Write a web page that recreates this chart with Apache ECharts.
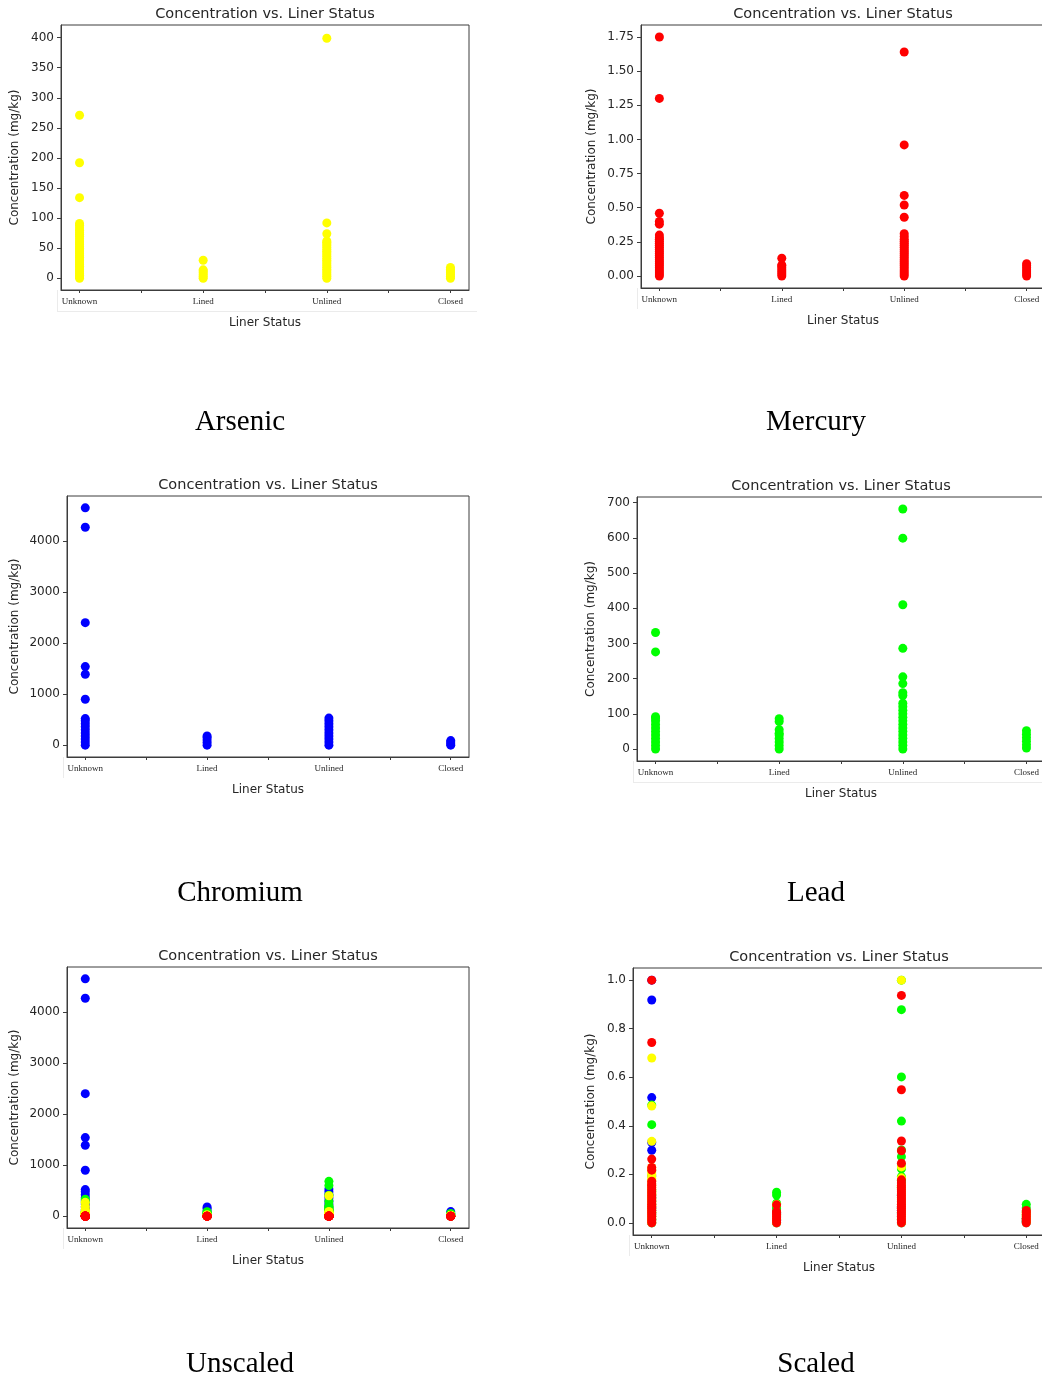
<!DOCTYPE html>
<html>
<head>
<meta charset="utf-8">
<script src="https://cdn.jsdelivr.net/npm/echarts@6/dist/echarts.min.js"></script>
<style>
html,body{margin:0;padding:0;background:#fff;overflow:hidden;}
#c{width:1046px;height:1378px;}
</style>
</head>
<body>
<div id="c"></div>
<script>
// ---- data ----
const categories = ['Unknown', 'Lined', 'Unlined', 'Closed'];

const arsenicUnknown = [0, 2, 5, 8, 11, 14, 17, 20, 23, 26, 29, 32, 35, 38, 41, 44, 47, 50, 53, 56, 59, 62, 66, 70, 73, 76, 80, 84, 88, 91, 134, 192, 271];
const arsenicLined   = [0, 3, 6, 9, 12, 14, 30];
const arsenicUnlined = [0, 3, 6, 9, 12, 15, 18, 21, 24, 27, 30, 33, 36, 39, 42, 45, 48, 51, 54, 57, 60, 62, 74, 92, 399];
const arsenicClosed  = [0, 3, 6, 9, 12, 15, 18];

const mercuryUnknown = [0, 0.015, 0.03, 0.045, 0.06, 0.075, 0.09, 0.105, 0.12, 0.135, 0.15, 0.165, 0.18, 0.195, 0.21, 0.225, 0.24, 0.255, 0.27, 0.28, 0.30, 0.38, 0.40, 0.46, 1.30, 1.75];
const mercuryLined   = [0, 0.015, 0.03, 0.045, 0.06, 0.075, 0.08, 0.13];
const mercuryUnlined = [0, 0.015, 0.03, 0.045, 0.06, 0.075, 0.09, 0.105, 0.12, 0.135, 0.15, 0.165, 0.18, 0.195, 0.21, 0.225, 0.24, 0.255, 0.27, 0.29, 0.31, 0.43, 0.52, 0.59, 0.96, 1.64];
const mercuryClosed  = [0, 0.015, 0.03, 0.045, 0.06, 0.075, 0.09];

const chromiumUnknown = [0, 60, 120, 180, 240, 300, 360, 420, 480, 520, 900, 1390, 1540, 2400, 4270, 4650];
const chromiumLined   = [0, 50, 100, 150, 180];
const chromiumUnlined = [0, 60, 120, 180, 240, 300, 360, 420, 480, 530];
const chromiumClosed  = [0, 30, 60, 90];

const leadUnknown = [0, 10, 20, 30, 40, 50, 60, 70, 80, 88, 92, 276, 331];
const leadLined   = [0, 10, 20, 30, 40, 45, 55, 78, 86];
const leadUnlined = [0, 10, 20, 30, 40, 50, 60, 70, 80, 90, 100, 110, 120, 130, 152, 160, 186, 205, 286, 410, 599, 682];
const leadClosed  = [3, 12, 22, 32, 42, 52];

const arsenicTicks  = [0, 50, 100, 150, 200, 250, 300, 350, 400];
const mercuryTicks  = [0, 0.25, 0.5, 0.75, 1.0, 1.25, 1.5, 1.75];
const chromiumTicks = [0, 1000, 2000, 3000, 4000];
const leadTicks     = [0, 100, 200, 300, 400, 500, 600, 700];
const scaledTicks   = [0, 0.2, 0.4, 0.6, 0.8, 1.0];
const xTickValues   = [0, 0.5, 1, 1.5, 2, 2.5, 3];
const xLabelValues  = [0, 1, 2, 3];

const titleText = 'Concentration vs. Liner Status';
const yName = 'Concentration (mg/kg)';
const xName = 'Liner Status';

// ---- element groups ----
const arsenic  = [arsenicUnknown, arsenicLined, arsenicUnlined, arsenicClosed];
const mercury  = [mercuryUnknown, mercuryLined, mercuryUnlined, mercuryClosed];
const chromium = [chromiumUnknown, chromiumLined, chromiumUnlined, chromiumClosed];
const lead     = [leadUnknown, leadLined, leadUnlined, leadClosed];

const YELLOW = '#ffff00', RED = '#ff0000', BLUE = '#0000ff', GREEN = '#00ff00';

// ---- layout ----
const panels = [
  {left: 61,  top: 25,  width: 408, height: 265, ymin: -19.5,   ymax: 421,    ticks: arsenicTicks,  dec: 0, nameGap: 40, caption: 'Arsenic',  cx: 240, cy: 421},
  {left: 641, top: 25,  width: 404, height: 263, ymin: -0.0875, ymax: 1.8375, ticks: mercuryTicks,  dec: 2, nameGap: 43, caption: 'Mercury',  cx: 816, cy: 421},
  {left: 67,  top: 496, width: 402, height: 261, ymin: -232,    ymax: 4882,   ticks: chromiumTicks, dec: 0, nameGap: 46, caption: 'Chromium', cx: 240, cy: 892},
  {left: 637, top: 497, width: 408, height: 264, ymin: -34,     ymax: 716,    ticks: leadTicks,     dec: 0, nameGap: 40, caption: 'Lead',     cx: 816, cy: 892},
  {left: 67,  top: 967, width: 402, height: 261, ymin: -232,    ymax: 4882,   ticks: chromiumTicks, dec: 0, nameGap: 46, caption: 'Unscaled', cx: 240, cy: 1363},
  {left: 633, top: 968, width: 412, height: 267, ymin: -0.05,   ymax: 1.05,   ticks: scaledTicks,   dec: 1, nameGap: 36, caption: 'Scaled',   cx: 816, cy: 1363}
];

const FRAME = '#3c3c3c';
const TXT = '#262626';
const SANS = '"DejaVu Sans", sans-serif';
const SERIF = '"Liberation Serif", "Times New Roman", serif';

const grids = [], xAxes = [], yAxes = [], graphics = [];
panels.forEach((p, i) => {
  grids.push({left: p.left, top: p.top, width: p.width, height: p.height, show: true,
    borderColor: FRAME, borderWidth: 1, backgroundColor: 'transparent',
    containLabel: false, outerBoundsMode: 'none'});
  xAxes.push({type: 'value', gridIndex: i, min: -0.15, max: 3.15, position: 'bottom',
    name: xName, nameLocation: 'middle', nameGap: 27,
    nameTextStyle: {fontSize: 12, fontFamily: SANS, color: TXT},
    axisLine: {show: true, onZero: false, lineStyle: {color: FRAME, width: 1}},
    axisTick: {show: true, length: 3, inside: false, customValues: xTickValues, lineStyle: {color: FRAME}},
    axisLabel: {show: true, customValues: xLabelValues, margin: 7, fontSize: 9, fontFamily: SERIF, color: TXT,
      formatter: v => categories[Math.round(v)] || ''},
    splitLine: {show: false}});
  yAxes.push({type: 'value', gridIndex: i, min: p.ymin, max: p.ymax, position: 'left',
    name: yName, nameLocation: 'middle', nameGap: p.nameGap, nameRotate: 90,
    nameTextStyle: {fontSize: 12, fontFamily: SANS, color: TXT},
    axisLine: {show: true, onZero: false, lineStyle: {color: FRAME, width: 1}},
    axisTick: {show: true, length: 4, inside: false, customValues: p.ticks, lineStyle: {color: FRAME}},
    axisLabel: {show: true, customValues: p.ticks, margin: 7, fontSize: 12, fontFamily: SANS, color: TXT,
      formatter: v => Number(v).toFixed(p.dec)},
    splitLine: {show: false}});
  graphics.push({type: 'text', x: p.left + p.width / 2, y: p.top - 11, silent: true,
    style: {text: titleText, fontSize: 14.5, fontFamily: SANS, fill: TXT,
      textAlign: 'center', textVerticalAlign: 'middle', verticalAlign: 'middle'}});
  graphics.push({type: 'text', x: p.cx, y: p.cy + 1, silent: true,
    style: {text: p.caption, fontSize: 29, fontFamily: SERIF, fill: '#000',
      textAlign: 'center', textVerticalAlign: 'middle', verticalAlign: 'middle'}});
  // faint strip edges under the category labels
  const sx = p.left - 4, sy = p.top + p.height, sh = 21;
  graphics.push({type: 'line', silent: true, shape: {x1: sx + 0.5, y1: sy, x2: sx + 0.5, y2: sy + sh},
    style: {stroke: '#ebebeb', lineWidth: 1}});
  if (i === 0 || i === 3) {
    graphics.push({type: 'line', silent: true, shape: {x1: sx, y1: sy + sh + 0.5, x2: p.left + p.width + 8, y2: sy + sh + 0.5},
      style: {stroke: '#ebebeb', lineWidth: 1}});
  }
});

function pts(group, scale) {
  const out = [];
  group.forEach((arr, ci) => arr.forEach(v => out.push([ci, v / scale])));
  return out;
}
function maxOf(group) { return Math.max.apply(null, group.flat()); }

function sc(data, color, idx) {
  return {type: 'scatter', xAxisIndex: idx, yAxisIndex: idx, data: data,
    symbol: 'circle', symbolSize: 9, silent: true, animation: false,
    itemStyle: {color: color, opacity: 1, borderWidth: 0}};
}

const series = [
  sc(pts(arsenic, 1), YELLOW, 0),
  sc(pts(mercury, 1), RED, 1),
  sc(pts(chromium, 1), BLUE, 2),
  sc(pts(lead, 1), GREEN, 3),
  // unscaled: blue, green, yellow, red
  sc(pts(chromium, 1), BLUE, 4),
  sc(pts(lead, 1), GREEN, 4),
  sc(pts(arsenic, 1), YELLOW, 4),
  sc(pts(mercury, 1), RED, 4),
  // scaled by each element's maximum
  sc(pts(chromium, maxOf(chromium)), BLUE, 5),
  sc(pts(lead, maxOf(lead)), GREEN, 5),
  sc(pts(arsenic, maxOf(arsenic)), YELLOW, 5),
  sc(pts(mercury, maxOf(mercury)), RED, 5)
];

const chart = echarts.init(document.getElementById('c'), null, {renderer: 'canvas'});
chart.setOption({
  animation: false,
  backgroundColor: '#ffffff',
  grid: grids,
  xAxis: xAxes,
  yAxis: yAxes,
  series: series,
  graphic: graphics
});
</script>
</body>
</html>
